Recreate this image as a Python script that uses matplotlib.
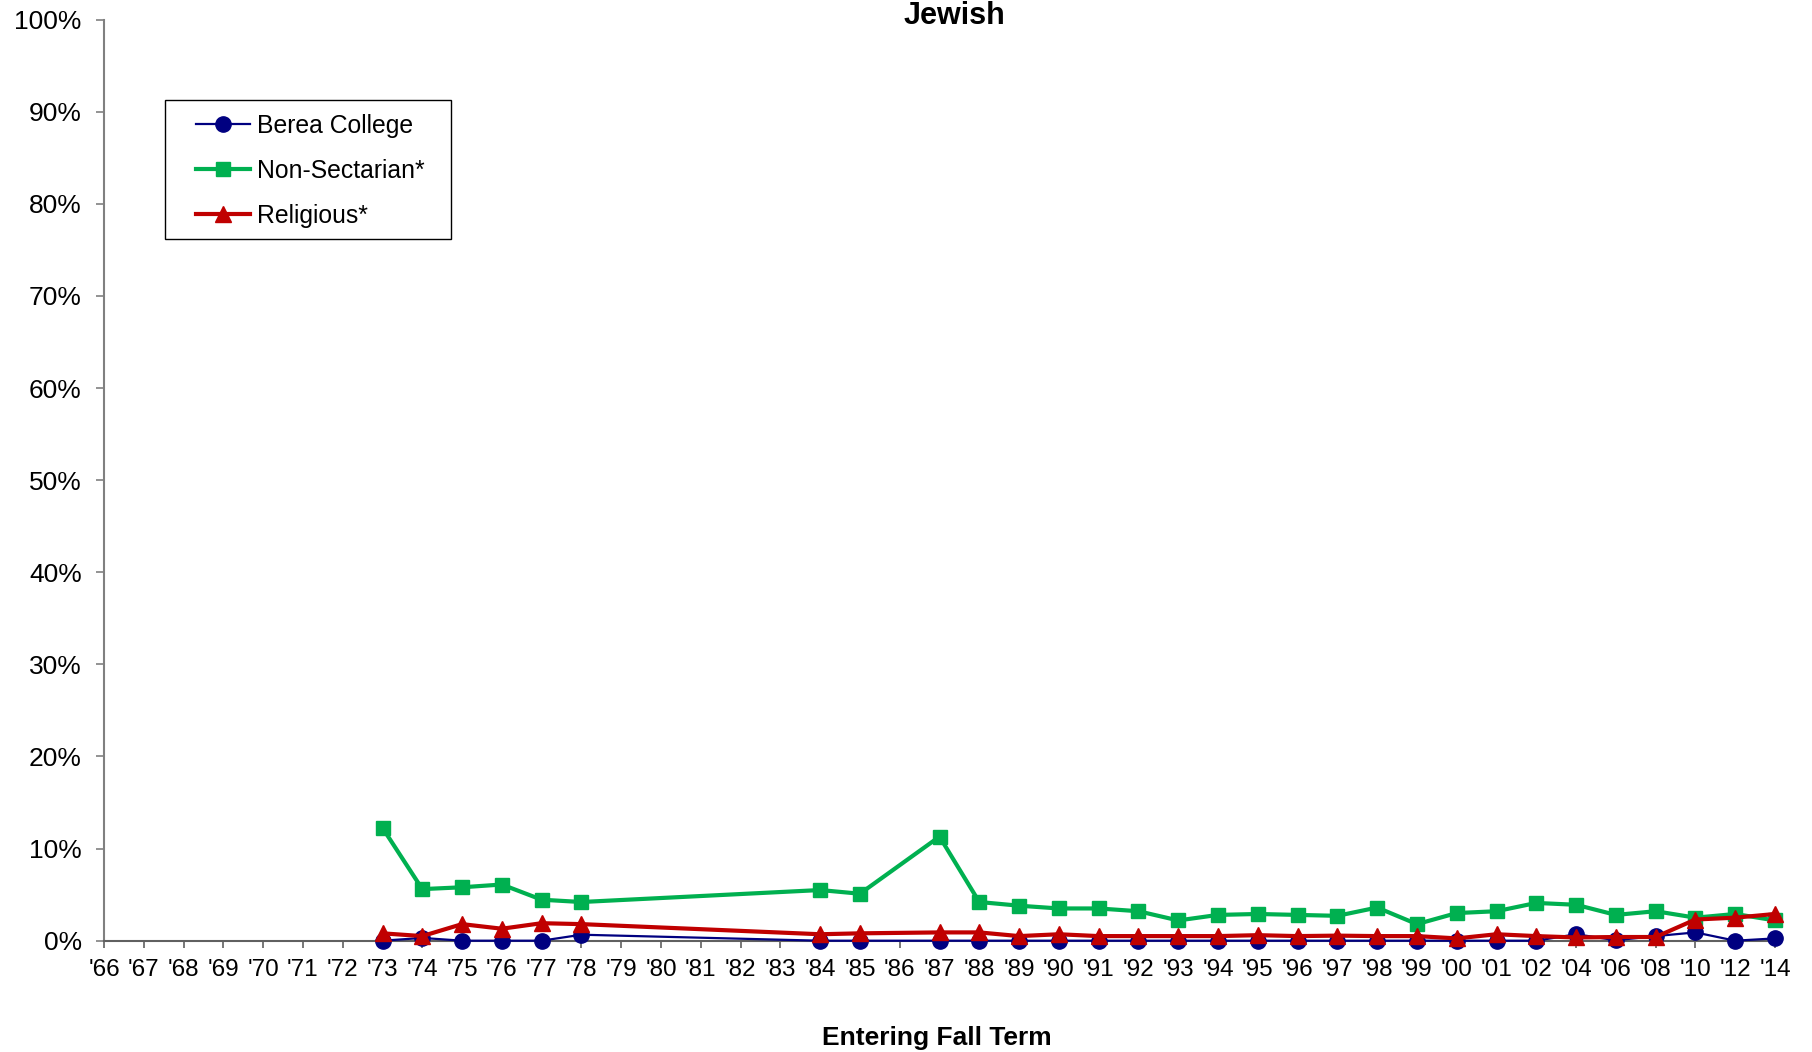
import matplotlib
matplotlib.use("Agg")
import matplotlib.pyplot as plt
from matplotlib.patches import Rectangle

plt.rcParams['font.family'] = ['Liberation Sans', 'DejaVu Sans']

# x categories (entering fall term)
years = ["'66", "'67", "'68", "'69", "'70", "'71", "'72", "'73", "'74", "'75",
         "'76", "'77", "'78", "'79", "'80", "'81", "'82", "'83", "'84", "'85",
         "'86", "'87", "'88", "'89", "'90", "'91", "'92", "'93", "'94", "'95",
         "'96", "'97", "'98", "'99", "'00", "'01", "'02", "'04", "'06", "'08",
         "'10", "'12", "'14"]

# years with data
data_years = ["'73", "'74", "'75", "'76", "'77", "'78", "'84", "'85", "'87", "'88",
              "'89", "'90", "'91", "'92", "'93", "'94", "'95", "'96", "'97", "'98",
              "'99", "'00", "'01", "'02", "'04", "'06", "'08", "'10", "'12", "'14"]

berea = [0.0, 0.3, 0.0, 0.0, 0.0, 0.65, 0.0, 0.0, 0.0, 0.0,
         0.0, 0.0, 0.0, 0.0, 0.0, 0.0, 0.0, 0.0, 0.0, 0.0,
         0.0, 0.0, 0.0, 0.0, 0.7, 0.05, 0.5, 0.9, 0.0, 0.25]
nonsect = [12.25, 5.6, 5.8, 6.1, 4.45, 4.2, 5.5, 5.1, 11.3, 4.2,
           3.8, 3.5, 3.5, 3.2, 2.2, 2.8, 2.9, 2.8, 2.7, 3.6,
           1.8, 3.0, 3.2, 4.1, 3.9, 2.8, 3.2, 2.5, 2.9, 2.2]
relig = [0.8, 0.5, 1.8, 1.3, 1.9, 1.8, 0.7, 0.8, 0.9, 0.9,
         0.5, 0.7, 0.5, 0.5, 0.5, 0.5, 0.6, 0.5, 0.55, 0.5,
         0.5, 0.25, 0.7, 0.5, 0.35, 0.4, 0.4, 2.3, 2.5, 2.9]

x = [years.index(y) for y in data_years]

fig = plt.figure(figsize=(18.12, 10.52), dpi=100)
ax = fig.add_axes([104/1812, 1-940.7/1052, (1775-104)/1812, (940.7-19.6)/1052])

ax.plot(x, berea, color='#000080', lw=1.6, marker='o', ms=11, label='Berea College', zorder=3, clip_on=False)
ax.plot(x, nonsect, color='#00B050', lw=3, marker='s', ms=10, label='Non-Sectarian*', zorder=3, clip_on=False)
ax.plot(x, relig, color='#C00000', lw=3, marker='^', ms=11, label='Religious*', zorder=4, clip_on=False)

ax.set_xlim(0, len(years) - 1)
ax.set_ylim(0, 100)
ax.set_xticks(range(len(years)))
ax.set_xticklabels(years)
ax.set_yticks(range(0, 101, 10))
ax.set_yticklabels(['%d%%' % v for v in range(0, 101, 10)])

for s in ['top', 'right']:
    ax.spines[s].set_visible(False)
ax.spines['left'].set_color('#808080')
ax.spines['bottom'].set_color('#606060')
ax.spines['left'].set_linewidth(1.5)
ax.spines['bottom'].set_linewidth(1.5)
ax.tick_params(axis='x', length=5, width=1.2, color='#606060', labelsize=17.5, pad=8)
ax.tick_params(axis='y', length=6, width=1.2, color='#808080', labelsize=19, pad=10)

fig.text(954/1812, 1-24/1052, 'Jewish', fontsize=22, fontweight='bold', ha='center', va='baseline')
fig.text(937/1812, 1-1045/1052, 'Entering Fall Term', fontsize=19, fontweight='bold', ha='center', va='baseline')

# legend box drawn separately so the padding matches
fig.patches.append(Rectangle((165/1812, 1-239/1052), (451-165)/1812, (239-100)/1052,
                             transform=fig.transFigure, fill=False, edgecolor='black', lw=1.0))
leg = ax.legend(loc='upper left', bbox_to_anchor=(196/1812, 1-113.5/1052), bbox_transform=fig.transFigure,
                fontsize=17.8, frameon=False, borderpad=0, borderaxespad=0,
                handlelength=2.2, handletextpad=0.25, labelspacing=0.86)

fig.savefig('out.png', dpi=100)
